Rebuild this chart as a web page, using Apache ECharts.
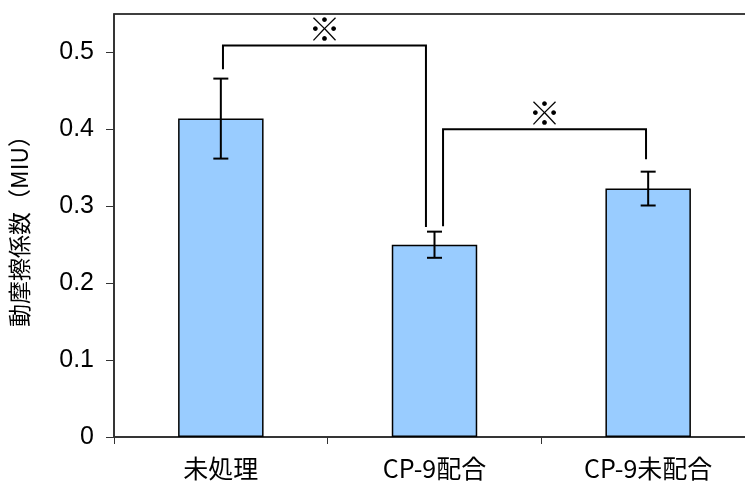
<!DOCTYPE html>
<html>
<head>
<meta charset="utf-8">
<script src="https://cdn.jsdelivr.net/npm/echarts@6/dist/echarts.min.js"></script>
<style>
html,body{margin:0;padding:0;background:#fff;}
#chart{width:745px;height:482px;}
</style>
</head>
<body>
<div id="chart"></div>
<script>
// ---- data ----
var categories = ['未処理', 'CP-9配合', 'CP-9未配合'];
var means = [0.414, 0.250, 0.323];
var errors = [0.052, 0.017, 0.022];
var yTicks = [0, 0.1, 0.2, 0.3, 0.4, 0.5];
var yTitle = '動摩擦係数（MIU）';
// significance brackets (x in category units, y in data units)
var bracketFromX = [0.01, 1.04];
var bracketToX = [0.96, 1.99];
var bracketTopY = [0.509, 0.400];
var bracketLeftEndY = [0.478, 0.274];
var bracketRightEndY = [0.273, 0.361];
var bracketMark = ['※', '※'];

var chart = echarts.init(document.getElementById('chart'), null, {renderer: 'canvas'});

var errData = categories.map(function (c, i) { return [i, means[i] + errors[i], means[i] - errors[i]]; });
var bracketData = bracketFromX.map(function (x, i) {
  return [x, bracketToX[i], bracketTopY[i], bracketLeftEndY[i], bracketRightEndY[i]];
});

var lineCol = '#000';
var option = {
  backgroundColor: '#fff',
  animation: false,
  grid: {
    left: 114, top: 14, right: -10, bottom: 45,
    outerBoundsMode: 'none', containLabel: false,
    show: true, borderColor: '#000', borderWidth: 1.5, backgroundColor: 'transparent'
  },
  xAxis: [{
    type: 'category',
    data: categories,
    axisLine: {onZero: false, lineStyle: {color: '#333', width: 1.5}},
    axisTick: {show: true, length: 7, lineStyle: {color: '#333', width: 1}},
    axisLabel: {
      color: '#000', fontSize: 25, margin: 19,
      fontFamily: '"Noto Sans CJK JP", sans-serif'
    }
  }, {
    type: 'value', min: -0.5, max: 2.5, show: false
  }],
  yAxis: {
    type: 'value', min: 0, max: 0.55, interval: 0.1,
    name: yTitle, nameLocation: 'middle', nameRotate: 90, nameGap: 83,
    nameTextStyle: {color: '#000', fontSize: 23, fontFamily: '"Noto Sans CJK JP", sans-serif'},
    splitLine: {show: false},
    axisLine: {show: true, onZero: false, lineStyle: {color: '#333', width: 1.5}},
    axisTick: {show: true, length: 8, customValues: yTicks, lineStyle: {color: '#333', width: 1}},
    axisLabel: {
      color: '#000', fontSize: 25, margin: 20, customValues: yTicks,
      fontFamily: '"Liberation Sans", Arial, sans-serif',
      formatter: function (v) { return String(v); }
    }
  },
  series: [{
    type: 'bar',
    data: means,
    barWidth: '40%',
    itemStyle: {color: '#99CCFF', borderColor: '#000', borderWidth: 1.5}
  }, {
    type: 'custom',
    data: errData,
    z: 5,
    renderItem: function (params, api) {
      var hi = api.coord([api.value(0), api.value(1)]);
      var lo = api.coord([api.value(0), api.value(2)]);
      var w = 7.5;
      var st = {stroke: lineCol, lineWidth: 2};
      return {type: 'group', children: [
        {type: 'line', shape: {x1: hi[0], y1: hi[1], x2: lo[0], y2: lo[1]}, style: st},
        {type: 'line', shape: {x1: hi[0] - w, y1: hi[1], x2: hi[0] + w, y2: hi[1]}, style: st},
        {type: 'line', shape: {x1: lo[0] - w, y1: lo[1], x2: lo[0] + w, y2: lo[1]}, style: st}
      ]};
    }
  }, {
    type: 'custom',
    xAxisIndex: 1,
    data: bracketData,
    z: 6,
    renderItem: function (params, api) {
      var a = api.coord([api.value(0), api.value(3)]);
      var b = api.coord([api.value(0), api.value(2)]);
      var c = api.coord([api.value(1), api.value(2)]);
      var d = api.coord([api.value(1), api.value(4)]);
      return {type: 'group', children: [
        {type: 'polyline', shape: {points: [a, b, c, d]}, style: {stroke: lineCol, lineWidth: 2, fill: null}},
        {type: 'text', x: (b[0] + c[0]) / 2, y: b[1] - 17,
          style: {text: bracketMark[params.dataIndex], fill: '#000', fontSize: 32,
            fontFamily: '"Noto Sans CJK JP", sans-serif', align: 'center', verticalAlign: 'middle'}}
      ]};
    }
  }]
};
chart.setOption(option);
</script>
</body>
</html>
